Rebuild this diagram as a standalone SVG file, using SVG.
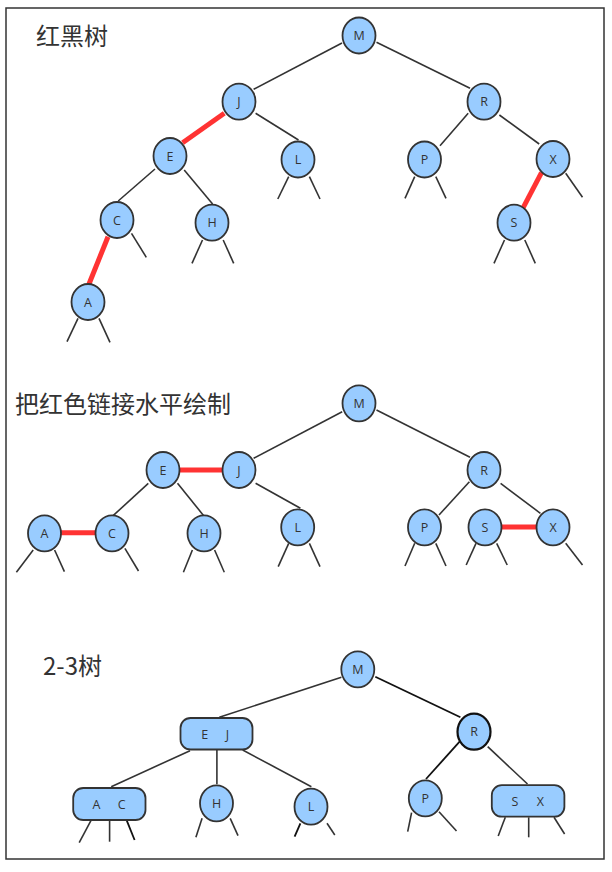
<svg xmlns="http://www.w3.org/2000/svg" width="612" height="872" viewBox="0 0 612 872">
<style>
.frame{fill:#fff;stroke:#333;stroke-width:1.5}
.n{fill:#99ccff;stroke:#333;stroke-width:1.8}
.nb{fill:#99ccff;stroke:#111;stroke-width:2.2}
.e{stroke:#333;stroke-width:1.6;fill:none;stroke-linecap:butt}
.ed{stroke:#111;stroke-width:1.8;fill:none}
.r{stroke:#ff3333;stroke-width:5;fill:none}
.t{font-family:"Open Sans","Liberation Sans",sans-serif;font-size:12.5px;fill:#333;text-anchor:middle;dominant-baseline:central}
.title{font-family:"Noto Sans CJK SC","Liberation Sans",sans-serif;font-size:24px;fill:#333}
</style>
<rect class="frame" x="6" y="8" width="598" height="851"/>
<text class="title" x="36" y="45">红黑树</text>
<text class="title" x="15" y="413">把红色链接水平绘制</text>
<text class="title" x="43" y="675">2-3树</text>

<g id="connectors">
<!-- tree 1 -->
<line class="e" x1="342" y1="43" x2="253.6" y2="89.3"/>
<line class="e" x1="376.5" y1="42.3" x2="470" y2="88.3"/>
<line class="r" x1="224.3" y1="113.3" x2="182.6" y2="142.7"/>
<line class="e" x1="255.6" y1="113.3" x2="298.5" y2="140"/>
<line class="e" x1="468.2" y1="113.3" x2="440" y2="145.7"/>
<line class="e" x1="499.4" y1="115" x2="539.2" y2="144"/>
<line class="e" x1="155" y1="169" x2="118.2" y2="201"/>
<line class="e" x1="184.2" y1="170" x2="212.6" y2="204"/>
<line class="r" x1="108" y1="236.7" x2="89" y2="284"/>
<line class="r" x1="541.5" y1="172.7" x2="522.8" y2="208.3"/>
<line class="e" x1="288.7" y1="176.7" x2="277.8" y2="199"/>
<line class="e" x1="309.4" y1="176.7" x2="320" y2="199"/>
<line class="e" x1="414.7" y1="176.7" x2="405" y2="198.3"/>
<line class="e" x1="435.8" y1="176.7" x2="446" y2="198.3"/>
<line class="e" x1="565.7" y1="173.3" x2="582.5" y2="197.3"/>
<line class="e" x1="131.5" y1="233.3" x2="146.3" y2="257.3"/>
<line class="e" x1="202.5" y1="240" x2="192" y2="263.3"/>
<line class="e" x1="223.2" y1="240" x2="233.7" y2="263.3"/>
<line class="e" x1="504.5" y1="240" x2="494" y2="263.3"/>
<line class="e" x1="524.8" y1="240" x2="535.3" y2="263.3"/>
<line class="e" x1="78" y1="318.3" x2="67" y2="341.7"/>
<line class="e" x1="99" y1="318.3" x2="110" y2="342.3"/>
<!-- tree 2 -->
<line class="e" x1="342.2" y1="411.7" x2="253.6" y2="458.3"/>
<line class="e" x1="376.5" y1="410" x2="470" y2="457.3"/>
<line class="r" x1="175" y1="470" x2="227" y2="470"/>
<line class="e" x1="255.6" y1="483.3" x2="300.4" y2="508.3"/>
<line class="e" x1="148.3" y1="483.3" x2="113.1" y2="515.7"/>
<line class="e" x1="177.5" y1="483.3" x2="203.7" y2="515.7"/>
<line class="r" x1="58" y1="532.7" x2="99" y2="532.7"/>
<line class="e" x1="469.4" y1="481.7" x2="439" y2="515"/>
<line class="e" x1="500.6" y1="483.3" x2="540.4" y2="513.3"/>
<line class="r" x1="498" y1="527" x2="540" y2="527"/>
<line class="e" x1="33.2" y1="550" x2="16.4" y2="572.3"/>
<line class="e" x1="54.6" y1="550" x2="64.4" y2="571.7"/>
<line class="e" x1="124.9" y1="548.3" x2="138.5" y2="571"/>
<line class="e" x1="192.4" y1="550" x2="183.4" y2="572.3"/>
<line class="e" x1="214.6" y1="550" x2="224.3" y2="572.3"/>
<line class="e" x1="288.7" y1="543.3" x2="278.2" y2="566.7"/>
<line class="e" x1="309.4" y1="543.3" x2="320" y2="566.7"/>
<line class="e" x1="414.7" y1="543.3" x2="405" y2="566"/>
<line class="e" x1="435.8" y1="543.3" x2="446" y2="566"/>
<line class="e" x1="476" y1="543.3" x2="466.2" y2="565"/>
<line class="e" x1="496.7" y1="543.3" x2="507.2" y2="565"/>
<line class="e" x1="565.7" y1="543.3" x2="582.5" y2="565"/>
<!-- tree 3 -->
<line class="e" x1="341.4" y1="677.3" x2="219.3" y2="717.3"/>
<line class="ed" x1="375.3" y1="676.7" x2="460.4" y2="717.3"/>
<line class="e" x1="190" y1="750.7" x2="111.2" y2="786.7"/>
<line class="e" x1="216.9" y1="750" x2="216.9" y2="784.3"/>
<line class="e" x1="242.7" y1="750" x2="311.4" y2="786.7"/>
<line class="ed" x1="459.6" y1="741.7" x2="426" y2="779"/>
<line class="e" x1="487.7" y1="746.7" x2="527.5" y2="784"/>
<line class="e" x1="90.9" y1="820.7" x2="79.2" y2="842.7"/>
<line class="e" x1="109.6" y1="820.7" x2="109.6" y2="841.7"/>
<line class="ed" x1="126.8" y1="820.7" x2="134.6" y2="840"/>
<line class="e" x1="202.1" y1="818.3" x2="195.9" y2="837.3"/>
<line class="e" x1="230.2" y1="818.3" x2="238" y2="835.7"/>
<line class="ed" x1="300.4" y1="823.3" x2="294.6" y2="836.7"/>
<line class="e" x1="327" y1="823.3" x2="334.8" y2="835"/>
<line class="e" x1="411.6" y1="812.7" x2="407.7" y2="831.7"/>
<line class="e" x1="439" y1="811.7" x2="456.5" y2="831"/>
<line class="e" x1="505.3" y1="817.3" x2="498.2" y2="836"/>
<line class="e" x1="528.7" y1="817.3" x2="528.7" y2="837.3"/>
<line class="e" x1="554" y1="817.3" x2="564.6" y2="834"/>
</g>

<!-- tree 1 nodes -->
<g id="t1-M"><ellipse class="n" cx="359" cy="35.5" rx="16.5" ry="18"/><text class="t" x="359" y="35.5">M</text></g>
<g id="t1-J"><ellipse class="n" cx="239" cy="101.7" rx="16.5" ry="18"/><text class="t" x="239" y="101.7">J</text></g>
<g id="t1-R"><ellipse class="n" cx="484" cy="101.7" rx="16.5" ry="18"/><text class="t" x="484" y="101.7">R</text></g>
<g id="t1-E"><ellipse class="n" cx="170" cy="156" rx="16.5" ry="18"/><text class="t" x="170" y="156">E</text></g>
<g id="t1-L"><ellipse class="n" cx="298" cy="159.5" rx="16.5" ry="18"/><text class="t" x="298" y="159.5">L</text></g>
<g id="t1-P"><ellipse class="n" cx="424.5" cy="159.5" rx="16.5" ry="18"/><text class="t" x="424.5" y="159.5">P</text></g>
<g id="t1-X"><ellipse class="n" cx="553" cy="159" rx="16.5" ry="18"/><text class="t" x="553" y="159">X</text></g>
<g id="t1-C"><ellipse class="n" cx="117" cy="220" rx="16.5" ry="18"/><text class="t" x="117" y="220">C</text></g>
<g id="t1-H"><ellipse class="n" cx="212" cy="222.7" rx="16.5" ry="18"/><text class="t" x="212" y="222.7">H</text></g>
<g id="t1-S"><ellipse class="n" cx="514" cy="222.7" rx="16.5" ry="18"/><text class="t" x="514" y="222.7">S</text></g>
<g id="t1-A"><ellipse class="n" cx="88" cy="302" rx="16.5" ry="18"/><text class="t" x="88" y="302">A</text></g>

<!-- tree 2 nodes -->
<g id="t2-M"><ellipse class="n" cx="359" cy="403.3" rx="16.5" ry="18"/><text class="t" x="359" y="403.3">M</text></g>
<g id="t2-E"><ellipse class="n" cx="163" cy="470" rx="16.5" ry="18"/><text class="t" x="163" y="470">E</text></g>
<g id="t2-J"><ellipse class="n" cx="239" cy="470" rx="16.5" ry="18"/><text class="t" x="239" y="470">J</text></g>
<g id="t2-R"><ellipse class="n" cx="484" cy="470" rx="16.5" ry="18"/><text class="t" x="484" y="470">R</text></g>
<g id="t2-A"><ellipse class="n" cx="44.5" cy="533.3" rx="16.5" ry="18"/><text class="t" x="44.5" y="533.3">A</text></g>
<g id="t2-C"><ellipse class="n" cx="112" cy="533.3" rx="16.5" ry="18"/><text class="t" x="112" y="533.3">C</text></g>
<g id="t2-H"><ellipse class="n" cx="204" cy="533.3" rx="16.5" ry="18"/><text class="t" x="204" y="533.3">H</text></g>
<g id="t2-L"><ellipse class="n" cx="297.7" cy="527.3" rx="16.5" ry="18"/><text class="t" x="297.7" y="527.3">L</text></g>
<g id="t2-P"><ellipse class="n" cx="424.5" cy="527.3" rx="16.5" ry="18"/><text class="t" x="424.5" y="527.3">P</text></g>
<g id="t2-S"><ellipse class="n" cx="485" cy="527.3" rx="16.5" ry="18"/><text class="t" x="485" y="527.3">S</text></g>
<g id="t2-X"><ellipse class="n" cx="553" cy="527.3" rx="16.5" ry="18"/><text class="t" x="553" y="527.3">X</text></g>

<!-- tree 3 nodes -->
<g id="t3-M"><ellipse class="n" cx="357.8" cy="669.3" rx="16.5" ry="18"/><text class="t" x="357.8" y="669.3">M</text></g>
<g id="t3-EJ"><rect class="n" x="180.5" y="718" width="72" height="31.5" rx="10"/><text class="t" x="204.8" y="734">E</text><text class="t" x="227.5" y="734">J</text></g>
<g id="t3-R"><ellipse class="nb" cx="474" cy="731.7" rx="16.5" ry="18"/><text class="t" x="474" y="731.7">R</text></g>
<g id="t3-AC"><rect class="n" x="73.2" y="788" width="72.3" height="32" rx="10"/><text class="t" x="96.4" y="804">A</text><text class="t" x="121.7" y="804">C</text></g>
<g id="t3-H"><ellipse class="n" cx="216.5" cy="803.3" rx="16.5" ry="18"/><text class="t" x="216.5" y="803.3">H</text></g>
<g id="t3-L"><ellipse class="n" cx="311" cy="806.7" rx="16.5" ry="18"/><text class="t" x="311" y="806.7">L</text></g>
<g id="t3-P"><ellipse class="n" cx="425.3" cy="798.3" rx="16.5" ry="18"/><text class="t" x="425.3" y="798.3">P</text></g>
<g id="t3-SX"><rect class="n" x="491.8" y="785.2" width="72.6" height="31.5" rx="10"/><text class="t" x="515" y="801.7">S</text><text class="t" x="540.4" y="801.7">X</text></g>
</svg>
